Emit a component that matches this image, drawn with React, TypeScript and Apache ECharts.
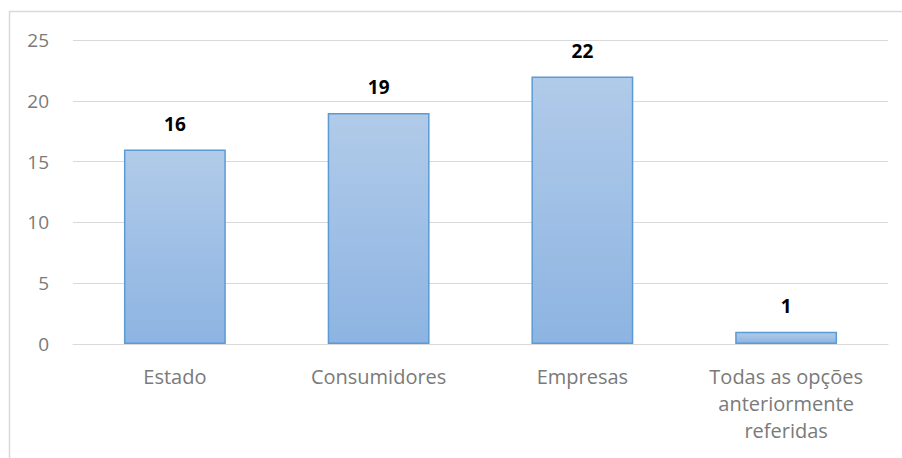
import React, { useEffect, useRef } from "react";
import * as echarts from "echarts";

const categories = ["Estado", "Consumidores", "Empresas", "Todas as opções\nanteriormente\nreferidas"];
const values = [16, 19, 22, 1];
const yTicks = { min: 0, max: 25, interval: 5 };

export default function App() {
  const ref = useRef<HTMLDivElement>(null);
  useEffect(() => {
    const chart = echarts.init(ref.current!, undefined, { renderer: "svg" });
    chart.setOption({
      animation: false,
      backgroundColor: "#ffffff",
      graphic: [
        {
          type: "rect",
          shape: { x: 9.5, y: 11.5, width: 900, height: 460 },
          style: { fill: "none", stroke: "#d9d9d9", lineWidth: 1.5 },
          silent: true,
        },
      ],
      grid: { left: 73, right: 14, top: 40, bottom: 114, containLabel: false },
      xAxis: {
        type: "category",
        data: categories,
        axisLine: { show: true, lineStyle: { color: "#d9d9d9", width: 1 } },
        axisTick: { show: false },
        axisLabel: {
          color: "#7a7a7a",
          fontFamily: "Open Sans",
          fontSize: 20,
          lineHeight: 27,
          margin: 19,
          interval: 0,
        },
      },
      yAxis: {
        type: "value",
        min: yTicks.min,
        max: yTicks.max,
        interval: yTicks.interval,
        axisLine: { show: false },
        axisTick: { show: false },
        splitLine: { lineStyle: { color: "#d9d9d9", width: 1 } },
        axisLabel: {
          color: "#7a7a7a",
          fontFamily: "Open Sans",
          fontSize: 19,
          margin: 24,
        },
      },
      series: [
        {
          type: "bar",
          data: values,
          barWidth: "50%",
          itemStyle: {
            color: new echarts.graphic.LinearGradient(0, 0, 0, 1, [
              { offset: 0, color: "#b1cbe9" },
              { offset: 1, color: "#8db4e2" },
            ]),
            borderColor: "#5b9bd5",
            borderWidth: 1.5,
          },
          label: {
            show: true,
            position: "top",
            distance: 16,
            color: "#000000",
            fontFamily: "Open Sans",
            fontWeight: "bold",
            fontSize: 19,
          },
        },
      ],
    });
    return () => chart.dispose();
  }, []);
  return (
    <div
      ref={ref}
      style={{ position: "absolute", left: 0, top: 0, width: 902, height: 458 }}
    />
  );
}
